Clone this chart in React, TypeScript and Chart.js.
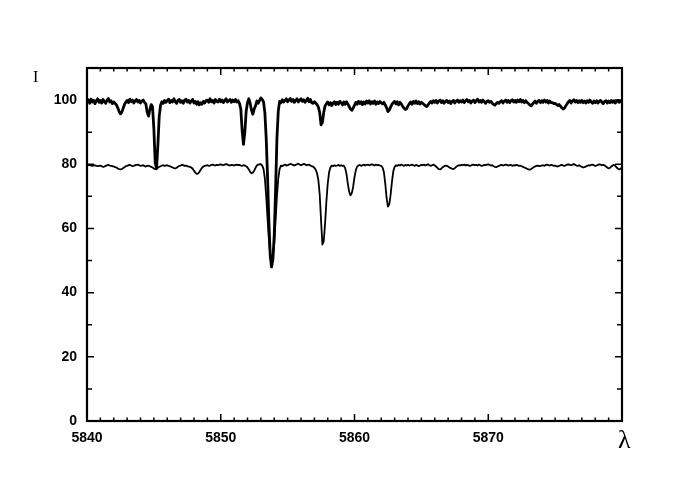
import { useEffect, useRef } from "react";
import { Chart, registerables } from "chart.js";

Chart.register(...registerables);

const LAMBDA_START = 5840;
const LAMBDA_STEP = 0.1;
const X_MIN = 5840;
const X_MAX = 5880;
const Y_MIN = 0;
const Y_MAX = 110;
const xTickLabels = [5840, 5850, 5860, 5870];
const yTickLabels = [0, 20, 40, 60, 80, 100];
const yAxisTitle = "I";
const xAxisTitle = "λ";

// Observed spectrum (upper, noisy), one value every 0.1 Å from 5840
const upperSpectrum = [
  99.6, 100.1, 99.0, 100.3, 99.4, 99.9, 98.9, 99.8, 100.4, 99.3,
  99.9, 99.1, 100.2, 99.5, 99.0, 100.0, 100.5, 99.4, 99.8, 98.9,
  99.4, 99.0, 98.5, 97.6, 96.5, 95.7, 96.2, 97.4, 98.6, 99.3,
  99.9, 99.2, 100.3, 99.5, 100.0, 99.1, 99.8, 100.2, 99.4, 99.9,
  99.1, 99.7, 100.0, 99.3, 98.8, 96.2, 95.0, 97.0, 98.6, 97.9,
  91.0, 80.5, 78.6, 86.0, 95.0, 98.4, 99.5, 99.0, 99.9, 99.3,
  99.8, 100.3, 99.2, 99.9, 99.4, 100.4, 99.5, 99.0, 99.9, 100.2,
  99.3, 99.8, 99.0, 100.0, 100.3, 99.4, 99.9, 99.1, 99.7, 100.2,
  99.1, 99.6, 98.7, 99.5, 98.5, 99.2, 98.7, 99.6, 99.1, 99.8,
  100.0, 99.3, 100.4, 99.5, 99.9, 99.1, 100.2, 99.6, 99.4, 100.3,
  99.5, 100.0, 99.2, 99.9, 100.4, 99.4, 99.8, 100.2, 99.3, 100.0,
  99.5, 100.2, 99.4, 99.8, 99.0, 97.2, 90.5, 86.2, 90.0, 96.5,
  99.2, 100.4, 99.0, 96.8, 95.6, 97.2, 98.2, 99.7, 99.0, 99.9,
  100.7, 100.2, 99.4, 96.0, 88.0, 76.0, 62.0, 51.5, 48.0, 50.5,
  58.0, 72.0, 88.0, 96.5, 99.6, 99.2, 100.1, 99.4, 99.9, 100.4,
  99.5, 100.0, 100.5, 99.6, 100.2, 99.3, 99.9, 100.4, 99.4, 100.0,
  100.4, 99.6, 100.1, 99.3, 99.9, 100.6, 99.5, 100.2, 99.2, 99.0,
  99.5, 99.1, 98.6, 97.8, 96.0, 92.3, 93.0, 96.2, 98.2, 98.9,
  99.4, 98.5, 99.2, 98.3, 99.1, 99.5, 98.6, 99.3, 98.7, 99.6,
  99.2, 98.5, 99.4, 98.7, 99.5, 98.8, 98.0, 97.2, 96.8, 97.5,
  98.4, 99.3, 98.7, 99.6, 98.9, 99.5, 98.6, 99.4, 98.8, 99.7,
  99.1, 99.8, 98.8, 99.5, 99.0, 99.7, 98.7, 99.4, 98.9, 99.6,
  99.1, 98.8, 99.3, 98.5, 97.6, 96.4, 96.9, 97.8, 98.7, 99.2,
  99.6, 98.8, 99.5, 98.5, 99.3, 98.8, 98.1, 97.5, 97.1, 97.3,
  98.2, 98.9, 99.4, 98.7, 99.6, 99.0, 99.7, 98.9, 99.5, 98.8,
  99.3, 99.0, 98.6, 98.3, 98.0, 98.5, 99.1, 99.6, 99.1, 99.8,
  99.3, 99.9, 99.1, 99.7, 100.0, 99.2, 99.8, 99.0, 99.6, 99.9,
  99.2, 99.7, 98.9, 99.6, 99.9, 99.1, 99.7, 100.0, 99.3, 99.8,
  99.4, 100.0, 99.2, 99.8, 100.2, 99.5, 99.9, 99.1, 99.7, 100.0,
  99.2, 99.8, 100.3, 99.4, 99.9, 99.3, 100.0, 99.5, 99.0, 99.6,
  99.8, 99.3, 99.6, 99.0, 98.7, 98.4, 98.9, 99.3, 99.0, 99.5,
  99.8, 99.1, 99.7, 100.0, 99.3, 99.9, 99.2, 99.8, 100.1, 99.4,
  99.9, 99.3, 100.0, 99.5, 100.2, 99.4, 99.9, 99.2, 99.8, 99.3,
  99.0, 98.5, 98.2, 98.7, 99.2, 99.7, 99.0, 99.6, 99.9, 99.2,
  99.8, 99.3, 100.0, 99.4, 99.9, 99.1, 99.7, 99.2, 99.2, 98.9,
  99.0, 98.7, 98.3, 98.6, 98.1, 97.6, 97.2, 97.5, 98.2, 98.9,
  99.5, 99.9, 99.1, 99.7, 100.1, 99.4, 99.9, 99.2, 99.8, 99.3,
  99.9, 99.2, 99.7, 99.1, 99.8, 99.3, 100.0, 99.4, 99.0, 99.7,
  99.2, 99.8, 99.1, 99.6, 99.9, 99.3, 98.9, 99.6, 99.8, 99.1,
  99.7, 99.2, 99.9, 99.3, 99.8, 99.1, 99.6, 99.9, 99.3, 99.7,
  99.5,
];

// Synthetic spectrum (lower, smooth), one value every 0.1 Å from 5840
const lowerSpectrum = [
  79.6, 79.7, 79.8, 79.6, 79.5, 79.6, 79.7, 79.5, 79.4, 79.5,
  79.6, 79.4, 79.2, 79.3, 79.5, 79.7, 79.8, 79.6, 79.5, 79.4,
  79.3, 79.1, 79.0, 78.7, 78.5, 78.4, 78.5, 78.8, 79.1, 79.4,
  79.5, 79.7, 79.8, 79.6, 79.4, 79.5, 79.7, 79.8, 79.9, 79.7,
  79.5, 79.6, 79.7, 79.4, 79.3, 79.5, 79.6, 79.4, 79.2, 79.0,
  78.7, 78.5, 78.6, 78.9, 79.2, 79.4, 79.6, 79.7, 79.5, 79.6,
  79.7, 79.5, 79.4, 79.2, 79.0, 78.8, 78.7, 78.9, 79.2, 79.5,
  79.6, 79.8, 79.7, 79.5, 79.6, 79.4, 79.3, 79.2, 79.0, 78.6,
  78.0, 77.4, 77.0, 77.1, 77.6, 78.3, 78.9, 79.3, 79.5, 79.6,
  79.7, 79.5, 79.6, 79.8, 79.9, 79.7, 79.6, 79.8, 79.7, 79.9,
  80.0, 79.8, 79.7, 79.9, 80.1, 79.9, 79.7, 79.6, 79.8, 79.7,
  79.6, 79.8, 79.9, 79.7, 79.8, 79.6, 79.5, 79.7, 79.6, 79.4,
  79.0, 78.4, 77.6, 77.2, 77.4, 78.0, 78.9, 79.6, 79.9, 80.0,
  80.0, 79.6, 78.5, 75.5, 70.0, 63.0, 56.5, 51.5, 49.6, 51.0,
  55.5, 62.5, 70.0, 75.5, 78.5, 79.6, 79.4, 79.7, 79.9, 79.6,
  79.7, 79.9, 80.1, 80.0, 79.8, 79.6, 79.8, 80.0, 80.2, 79.9,
  79.7, 79.9, 80.1, 80.0, 79.7, 79.8, 79.9, 79.6, 79.4, 79.3,
  78.9, 78.3, 77.2, 75.0, 70.5, 62.5, 55.0, 56.0, 61.5, 68.5,
  74.0, 77.5, 79.0, 79.6, 79.4, 79.7, 79.5, 79.6, 79.8, 79.5,
  79.7, 79.5, 79.6, 78.8, 77.0, 74.0, 71.5, 70.3, 71.0, 73.0,
  76.0, 78.2, 79.3, 79.6, 79.8, 79.5, 79.7, 79.9, 79.6, 79.8,
  79.9, 79.7, 79.8, 80.0, 79.8, 79.6, 79.9, 79.7, 79.8, 79.6,
  79.5, 79.0, 77.5, 74.0, 69.5, 66.8, 67.5, 70.5, 74.5, 77.8,
  79.2, 79.7, 79.5, 79.8, 79.6, 79.9, 79.7, 79.5, 79.8, 79.6,
  79.8, 79.6, 79.7, 79.9, 79.7, 79.5, 79.8, 79.6, 79.4, 79.6,
  79.8, 79.7, 79.9, 79.6, 79.8, 80.0, 79.7, 79.5, 79.7, 79.9,
  79.6, 79.3, 78.9, 78.5, 78.4, 78.7, 79.1, 79.4, 79.6, 79.5,
  79.3, 79.0, 78.8, 78.6, 78.5, 78.8, 79.2, 79.5, 79.7, 79.6,
  79.8, 79.7, 79.9, 79.6, 79.8, 79.7, 79.5, 79.6, 79.8, 79.9,
  79.7, 79.8, 79.6, 79.9, 79.7, 79.5, 79.6, 79.8, 79.7, 79.9,
  80.0, 79.8, 79.6, 79.7, 79.4, 79.2, 79.1, 79.3, 79.5, 79.7,
  79.8, 79.6, 79.7, 79.9, 79.8, 79.6, 79.7, 79.8, 79.5, 79.7,
  79.6, 79.8, 79.7, 79.5, 79.6, 79.4, 79.2, 79.0, 78.8, 78.6,
  78.4, 78.3, 78.5, 78.8, 79.1, 79.3, 79.5, 79.6, 79.4, 79.5,
  79.6, 79.7, 79.5, 79.8, 79.9, 79.7, 79.6, 79.8, 79.7, 79.5,
  79.6, 79.4, 79.3, 79.5, 79.7, 79.8, 79.6, 79.5, 79.7, 79.9,
  80.0, 79.8, 79.7, 79.9, 80.1, 79.8, 79.6, 79.5, 79.7, 79.4,
  79.2, 79.0, 79.1, 79.3, 79.5, 79.7, 79.6, 79.8, 79.9, 79.7,
  79.5, 79.6, 79.8, 80.0, 79.9, 79.7, 79.8, 79.6, 79.3, 79.0,
  78.7, 78.9, 79.3, 79.6, 79.8, 79.5, 79.0, 78.6, 78.4, 78.7,
  78.9,
];

const toPoints = (values: number[]) =>
  values.map((v, i) => ({ x: LAMBDA_START + i * LAMBDA_STEP, y: v }));

const framePlugin = {
  id: "frameTicks",
  afterDatasetsDraw(chart: any) {
    const { ctx, chartArea: a, scales } = chart;
    const xs = scales.x;
    const ys = scales.y;
    ctx.save();
    ctx.strokeStyle = "#000";
    ctx.lineWidth = 1.5;
    ctx.beginPath();
    for (let k = 0; k <= X_MAX - X_MIN; k++) {
      const v = X_MIN + k;
      const px = xs.getPixelForValue(v);
      const len = k % 10 === 0 ? 7 : 3.5;
      ctx.moveTo(px, a.bottom);
      ctx.lineTo(px, a.bottom - len);
      ctx.moveTo(px, a.top);
      ctx.lineTo(px, a.top + len);
    }
    for (let v = Y_MIN; v <= Y_MAX; v += 10) {
      const py = ys.getPixelForValue(v);
      const len = v % 20 === 0 ? 7 : 5;
      ctx.moveTo(a.left, py);
      ctx.lineTo(a.left + len, py);
      ctx.moveTo(a.right, py);
      ctx.lineTo(a.right - len, py);
    }
    ctx.stroke();
    ctx.lineWidth = 2.2;
    ctx.strokeRect(a.left, a.top, a.right - a.left, a.bottom - a.top);
    ctx.fillStyle = "#000";
    ctx.font = "16px 'Liberation Serif', 'DejaVu Serif', serif";
    ctx.textAlign = "left";
    ctx.textBaseline = "alphabetic";
    ctx.fillText(yAxisTitle, 33, 82);
    ctx.font = "26px 'Liberation Serif', 'DejaVu Serif', serif";
    ctx.fillText(xAxisTitle, 618, 448);
    ctx.restore();
  },
};

export default function App() {
  const canvasRef = useRef<HTMLCanvasElement | null>(null);

  useEffect(() => {
    document.body.style.margin = "0";
    const canvas = canvasRef.current;
    if (!canvas) return;
    const tickFont = { family: "'Liberation Sans', Arial, sans-serif", size: 14, weight: "bold" as const };
    const chart = new Chart(canvas, {
      type: "line",
      data: {
        datasets: [
          {
            label: "upper",
            data: toPoints(upperSpectrum),
            borderColor: "#000",
            borderWidth: 2.8,
            borderJoinStyle: "round",
            borderCapStyle: "round",
            pointRadius: 0,
            tension: 0,
            fill: false,
          },
          {
            label: "lower",
            data: toPoints(lowerSpectrum),
            borderColor: "#000",
            borderWidth: 1.8,
            borderJoinStyle: "round",
            borderCapStyle: "round",
            pointRadius: 0,
            tension: 0,
            fill: false,
          },
        ],
      },
      options: {
        animation: false,
        responsive: false,
        devicePixelRatio: 1,
        parsing: false,
        layout: { padding: { left: 0, right: 68, top: 68, bottom: 0 } },
        plugins: {
          legend: { display: false },
          tooltip: { enabled: false },
        },
        scales: {
          x: {
            type: "linear",
            min: X_MIN,
            max: X_MAX,
            grid: { display: false, drawTicks: false },
            border: { display: false },
            afterBuildTicks: (scale: any) => {
              scale.ticks = xTickLabels.map((v) => ({ value: v }));
            },
            afterFit: (scale: any) => {
              scale.height = 64;
            },
            ticks: {
              color: "#000",
              padding: 9,
              maxRotation: 0,
              autoSkip: false,
              font: tickFont,
              callback: (v: any) => String(v),
            },
          },
          y: {
            type: "linear",
            min: Y_MIN,
            max: Y_MAX,
            grid: { display: false, drawTicks: false },
            border: { display: false },
            afterBuildTicks: (scale: any) => {
              scale.ticks = yTickLabels.map((v) => ({ value: v }));
            },
            afterFit: (scale: any) => {
              scale.width = 87;
            },
            ticks: {
              color: "#000",
              padding: 10,
              autoSkip: false,
              font: tickFont,
              callback: (v: any) => String(v),
            },
          },
        },
      },
      plugins: [framePlugin],
    });
    return () => chart.destroy();
  }, []);

  return (
    <div style={{ width: 690, height: 485, background: "#fff" }}>
      <canvas ref={canvasRef} width={690} height={485} />
    </div>
  );
}
